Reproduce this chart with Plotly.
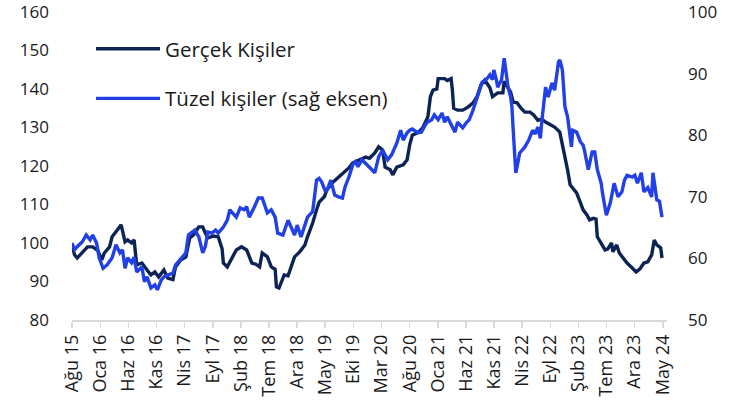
import pandas as pd
import plotly.graph_objects as go

# Weekly observations: week number since the first week (2015-08-07)
start_date = "2015-08-07"

gercek_weeks = [0, 2, 4, 8, 12, 16, 20, 23, 25, 29, 31, 35, 38, 41, 43, 46, 48, 50, 54, 58,
                61, 64, 67, 71, 74, 78, 80, 84, 88, 91, 94, 98, 101, 103, 105, 109, 113, 116, 117, 120,
                124, 127, 131, 135, 139, 142, 145, 147, 151, 154, 157, 158, 160, 164, 167, 170, 172, 176, 180, 182,
                186, 189, 191, 195, 197, 201, 206, 210, 214, 217, 223, 227, 230, 234, 237, 240, 242, 246, 248, 251,
                256, 259, 261, 263, 267, 271, 275, 277, 279, 282, 283, 288, 290, 293, 294, 295, 298, 302, 306, 310,
                313, 316, 319, 323, 325, 329, 333, 334, 337, 339, 341, 344, 347, 350, 354, 357, 360, 363, 366, 370,
                373, 377, 380, 383, 385, 387, 390, 393, 395, 398, 400, 403, 405, 406, 409, 412, 414, 417, 418, 421,
                423, 426, 429, 433, 436, 439, 442, 445, 448, 450, 452, 455, 456]
gercek_values = [99.3, 96.9, 96.1, 97.4, 99.0, 99.0, 98.0, 95.6, 97.4, 99.0, 101.6, 103.4, 104.7, 100.3, 100.8, 100.0, 100.8, 94.3, 94.8, 93.0,
                 91.7, 92.5, 91.2, 93.0, 90.9, 90.5, 93.8, 95.6, 96.4, 101.3, 102.1, 104.2, 104.2, 102.6, 101.3, 101.8, 101.6, 98.5, 94.8, 93.8,
                 96.4, 98.2, 99.0, 98.2, 94.8, 94.5, 93.8, 97.4, 96.4, 93.8, 93.2, 88.6, 88.3, 91.7, 91.5, 94.8, 96.4, 97.7, 99.5, 101.6,
                 105.2, 108.6, 110.6, 112.0, 113.8, 115.6, 117.2, 118.4, 119.5, 120.8, 121.6, 122.3, 122.0, 123.4, 125.0, 124.2, 119.7, 119.0, 117.7, 119.7,
                 120.3, 121.6, 125.5, 128.0, 128.6, 129.9, 132.7, 138.0, 139.7, 140.0, 142.7, 142.7, 142.2, 142.7, 139.7, 135.0, 134.5, 134.5, 135.3, 136.4,
                 138.0, 141.0, 142.3, 140.3, 138.0, 139.0, 139.0, 142.0, 140.3, 139.2, 136.6, 136.4, 135.0, 134.0, 134.0, 133.2, 131.9, 132.2, 131.4, 130.6,
                 130.1, 128.8, 124.2, 119.0, 115.1, 114.3, 113.0, 110.4, 108.6, 107.3, 106.0, 106.4, 106.2, 101.6, 100.0, 98.2, 98.4, 100.0, 97.7, 99.5,
                 97.4, 96.1, 94.8, 93.5, 92.5, 93.3, 94.8, 95.1, 96.9, 100.8, 99.5, 98.7, 96.1]

tuzel_weeks = [0, 2, 4, 8, 11, 14, 16, 19, 21, 24, 27, 29, 31, 34, 37, 39, 41, 43, 46, 48,
               50, 54, 56, 58, 61, 64, 66, 69, 71, 74, 78, 80, 82, 85, 88, 90, 93, 95, 98, 101,
               103, 105, 108, 111, 113, 117, 120, 122, 124, 127, 130, 133, 135, 137, 141, 144, 147, 149, 151, 154,
               157, 159, 163, 167, 170, 172, 174, 177, 180, 182, 186, 189, 191, 193, 196, 198, 200, 203, 206, 209,
               211, 214, 217, 219, 221, 224, 228, 232, 234, 237, 240, 244, 247, 251, 254, 256, 259, 261, 263, 267,
               270, 274, 278, 280, 283, 286, 288, 290, 293, 296, 298, 302, 305, 307, 310, 313, 315, 317, 320, 323,
               325, 326, 328, 329, 332, 334, 336, 337, 339, 340, 341, 343, 344, 346, 348, 350, 353, 356, 358, 360,
               362, 363, 366, 368, 371, 373, 376, 377, 379, 381, 383, 386, 387, 390, 393, 395, 396, 399, 402, 404,
               406, 409, 410, 413, 416, 419, 422, 425, 427, 429, 433, 435, 437, 440, 442, 445, 448, 449, 452, 454,
               456]
tuzel_values = [62.5, 61.4, 61.9, 62.7, 63.8, 63.0, 63.8, 62.5, 60.1, 58.4, 58.9, 59.4, 60.1, 62.2, 60.9, 61.4, 58.4, 60.1, 59.3, 60.2,
                57.8, 58.6, 56.2, 57.0, 55.2, 55.7, 54.9, 56.5, 57.0, 57.3, 57.6, 58.9, 59.4, 60.1, 60.9, 63.8, 64.3, 64.6, 63.5, 60.9,
                61.9, 64.3, 64.1, 64.6, 64.1, 65.1, 66.2, 67.9, 67.4, 66.7, 68.2, 67.9, 68.4, 66.7, 68.4, 69.8, 69.8, 68.4, 67.4, 67.9,
                66.7, 64.1, 63.8, 66.2, 64.9, 63.8, 65.4, 63.5, 65.4, 66.7, 67.6, 72.7, 73.0, 72.4, 70.8, 71.5, 72.7, 70.3, 70.0, 69.8,
                71.6, 73.2, 75.2, 75.7, 74.9, 76.0, 75.2, 74.4, 73.9, 76.5, 77.6, 76.0, 76.8, 78.7, 80.8, 79.2, 80.4, 80.8, 81.0, 80.4,
                80.5, 82.0, 82.5, 83.3, 82.5, 83.6, 82.1, 83.0, 81.7, 80.5, 82.1, 81.2, 82.1, 82.5, 84.1, 86.0, 87.3, 88.6, 89.0, 89.8,
                89.0, 90.6, 89.0, 87.8, 89.0, 92.5, 89.4, 87.8, 86.2, 84.6, 80.8, 73.9, 74.9, 77.1, 77.6, 78.1, 79.2, 80.8, 80.2, 81.3,
                79.5, 82.0, 87.8, 86.2, 88.5, 87.3, 91.9, 92.2, 90.6, 84.6, 83.0, 78.1, 80.8, 80.5, 78.9, 78.4, 77.6, 74.4, 77.3, 77.3,
                74.4, 72.2, 70.6, 67.0, 69.0, 72.2, 70.0, 70.8, 72.7, 73.5, 73.2, 73.5, 72.2, 73.9, 70.8, 71.5, 70.0, 73.9, 69.5, 69.3,
                66.7]

tick_labels = ["Ağu 15", "Oca 16", "Haz 16", "Kas 16", "Nis 17", "Eyl 17", "Şub 18", "Tem 18",
               "Ara 18", "May 19", "Eki 19", "Mar 20", "Ağu 20", "Oca 21", "Haz 21", "Kas 21",
               "Nis 22", "Eyl 22", "Şub 23", "Tem 23", "Ara 23", "May 24"]

series_names = ["Gerçek Kişiler", "Tüzel kişiler (sağ eksen)"]

t0 = pd.Timestamp(start_date)
gercek_dates = [t0 + pd.Timedelta(days=7 * w) for w in gercek_weeks]
tuzel_dates = [t0 + pd.Timedelta(days=7 * w) for w in tuzel_weeks]
tick_vals = [t0 + pd.DateOffset(months=5 * i) for i in range(len(tick_labels))]

DARK = "#0c2354"
BLUE = "#2140e6"
FONT = "Open Sans"
TXT = "#1a1a1a"

fig = go.Figure()
fig.add_trace(go.Scatter(x=gercek_dates, y=gercek_values, mode="lines", name=series_names[0],
                         line=dict(color=DARK, width=3.4), legendgroup="g1", yaxis="y"))
fig.add_trace(go.Scatter(x=tuzel_dates, y=tuzel_values, mode="lines", name=series_names[1],
                         line=dict(color=BLUE, width=3.4), legendgroup="g2", yaxis="y2"))

fig.update_layout(
    width=741, height=404,
    margin=dict(l=72, r=74, t=12, b=84, autoexpand=False),
    paper_bgcolor="white", plot_bgcolor="white",
    font=dict(family=FONT, size=17, color=TXT),
    showlegend=True,
    legend=dict(x=0.032, y=0.945, xanchor="left", yanchor="top",
                bgcolor="rgba(0,0,0,0)", font=dict(family=FONT, size=20.5, color=TXT),
                tracegroupgap=20, itemwidth=64, traceorder="grouped"),
    xaxis=dict(type="date", range=[t0, pd.Timestamp("2024-05-30")],
               tickmode="array", tickvals=tick_vals, ticktext=tick_labels,
               tickangle=-90, showgrid=False, zeroline=False, automargin=False,
               showline=True, linecolor="#d9d9d9", linewidth=1.5,
               ticks="outside", ticklen=6, tickcolor="#d9d9d9", tickwidth=1.5,
               tickfont=dict(family=FONT, size=18, color=TXT)),
    yaxis=dict(range=[80, 160], dtick=10, showgrid=False, zeroline=False,
               showline=False, ticks="", ticklabelstandoff=22, automargin=False,
               ticklabeloverflow="allow",
               tickfont=dict(family=FONT, size=17, color=TXT)),
    yaxis2=dict(range=[50, 100], dtick=10, overlaying="y", side="right",
                showgrid=False, zeroline=False, showline=False, ticks="",
                ticklabelstandoff=20, automargin=False, ticklabeloverflow="allow",
                tickfont=dict(family=FONT, size=17, color=TXT)),
)

# remove the browser's default 8px body margin so the figure fills the window
fig.write_html("out.html",
               config={"displayModeBar": False, "staticPlot": True},
               post_script="document.body.style.margin='0';document.body.style.overflow='hidden';")
